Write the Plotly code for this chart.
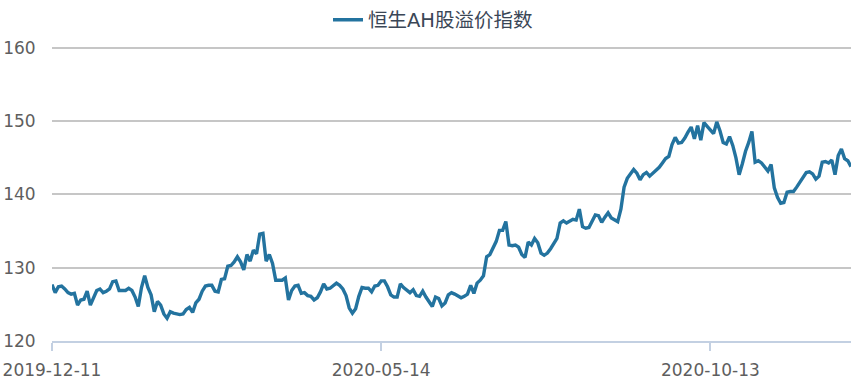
import plotly.graph_objects as go

series_name = "恒生AH股溢价指数"

# Daily index values (one per trading day)
values = [
    127.7, 126.6, 127.4, 127.5, 127.1, 126.6, 126.4, 126.5, 124.9, 125.6,
    125.7, 126.8, 124.9, 126.0, 126.9, 127.1, 126.6, 126.8, 127.1, 128.1,
    128.2, 126.9, 126.9, 126.9, 127.2, 126.9, 126.0, 124.7, 127.3, 128.9,
    127.3, 126.3, 124.0, 125.4, 124.9, 123.7, 123.1, 124.0, 123.8, 123.7,
    123.6, 123.7, 124.3, 124.6, 123.9, 125.2, 125.7, 126.8, 127.5, 127.6,
    127.6, 126.8, 126.7, 128.4, 128.5, 130.2, 130.3, 130.8, 131.5, 130.8,
    129.7, 131.8, 130.9, 132.4, 131.9, 134.6, 134.7, 130.9, 131.8, 130.6,
    128.3, 128.3, 128.3, 128.6, 125.6, 126.9, 127.5, 127.6, 126.5, 126.6,
    126.2, 126.1, 125.6, 125.9, 126.7, 127.8, 127.1, 127.2, 127.6, 127.9,
    127.6, 127.1, 126.2, 124.5, 123.8, 124.4, 126.1, 127.3, 127.2, 127.2,
    126.7, 127.5, 127.6, 128.2, 128.2, 127.4, 126.3, 126.0, 126.0, 127.8,
    127.3, 126.9, 126.6, 127.0, 126.2, 126.1, 126.8, 126.0, 125.4, 124.7,
    126.0, 125.8, 124.8, 125.2, 126.3, 126.6, 126.4, 126.1, 125.9, 126.1,
    126.4, 127.6, 126.5, 127.9, 128.3, 128.9, 131.5, 131.8, 132.7, 133.6,
    135.1, 135.1, 136.3, 133.1, 133.0, 133.1, 132.8, 131.8, 131.4, 133.5,
    133.1, 134.0, 133.4, 132.0, 131.7, 132.0, 132.6, 133.3, 134.0, 136.1,
    136.4, 136.1, 136.4, 136.6, 136.5, 138.0, 135.6, 135.4, 135.5, 136.4,
    137.2, 137.1, 136.2, 136.9, 137.5, 136.8, 136.5, 136.3, 138.0, 141.0,
    142.2, 142.8, 143.4, 142.9, 142.0, 142.7, 143.0, 142.5, 142.9, 143.4,
    143.7, 144.3, 144.9, 145.2, 146.8, 147.8, 147.0, 147.1, 147.7, 148.5,
    149.2, 147.6, 149.4, 147.4, 149.8, 149.3, 148.8, 148.3, 149.9, 148.7,
    147.1, 146.9, 147.9, 146.7, 145.0, 142.7, 144.2, 145.9, 147.1, 148.6,
    144.4, 144.6, 144.3, 143.7, 143.2, 144.1, 140.9, 139.6, 138.8, 138.9,
    140.3, 140.4, 140.4, 141.0, 141.7, 142.5, 143.0, 143.1, 142.8, 142.1,
    142.5, 144.4, 144.5, 144.3, 144.7, 142.7, 145.3, 146.2, 144.9, 144.6,
    143.8,
]

# Category axis labels (shown every 103 trading days)
tick_labels = ["2019-12-11", "2020-05-14", "2020-10-13"]
tick_index = [0, 103, 206]
label_interval = 103

y_ticks = [120, 130, 140, 150, 160]

x = list(range(len(values)))

axis_blue = "#c3d0e2"

fig = go.Figure()
fig.add_trace(go.Scatter(
    x=x, y=values, mode="lines", name=series_name,
    line=dict(color="#23739f", width=3.4),
    showlegend=True,
))

tick_font = dict(family="DejaVu Sans, Verdana, sans-serif", size=17, color="#5e5e5e")

fig.update_layout(
    width=866, height=385,
    margin=dict(l=52, r=15, t=45, b=44, autoexpand=False),
    paper_bgcolor="white", plot_bgcolor="white",
    showlegend=True,
    legend=dict(
        orientation="h", xref="container", yref="container",
        x=0.5, xanchor="center", y=0.948, yanchor="middle",
        font=dict(family="DejaVu Sans, Noto Sans CJK SC, sans-serif", size=19.5, color="#3a4656"),
        itemwidth=30,
    ),
    xaxis=dict(
        range=[0, len(values) - 1],
        tickmode="array", tickvals=tick_index, ticktext=tick_labels,
        showgrid=False, zeroline=False,
        showline=True, linecolor=axis_blue, linewidth=2,
        ticks="outside", ticklen=13, tickwidth=2, tickcolor="rgba(0,0,0,0)",
        minor=dict(ticks="outside", tick0=0, dtick=label_interval, ticklen=8,
                   tickwidth=2, tickcolor=axis_blue, showgrid=False),
        tickfont=tick_font,
    ),
    yaxis=dict(
        range=[120, 160.4],
        tickmode="array", tickvals=y_ticks,
        showgrid=True, gridcolor="#c6c6c6", gridwidth=1.5,
        zeroline=False, showline=False,
        ticks="outside", ticklen=12, tickcolor="rgba(0,0,0,0)",
        tickfont=tick_font,
    ),
)

fig.write_html("out.html")
